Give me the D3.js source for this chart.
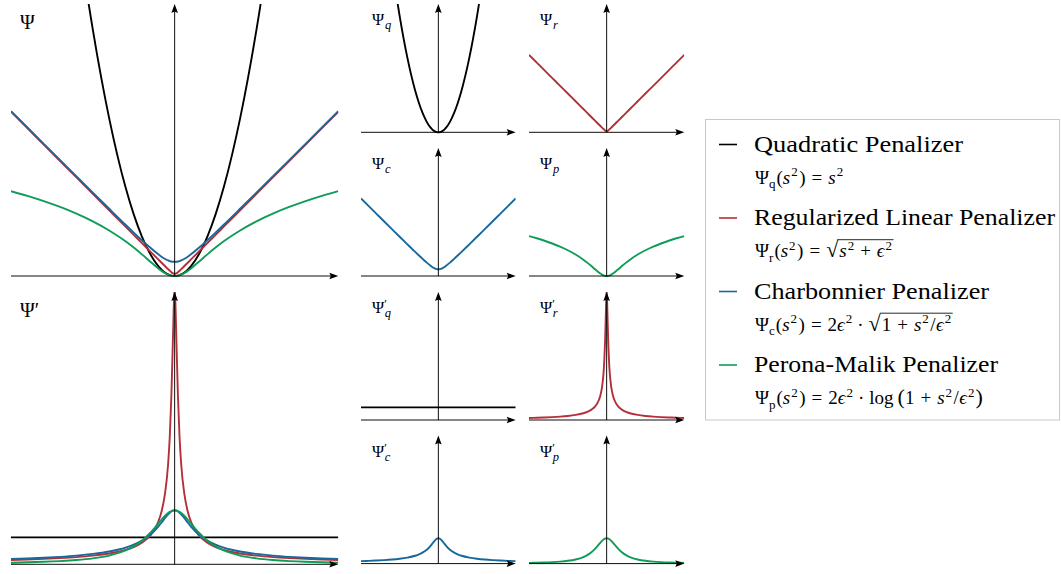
<!DOCTYPE html>
<html>
<head>
<meta charset="utf-8">
<script src="https://cdn.jsdelivr.net/npm/d3@7"></script>
<style>
  body { margin: 0; background: #fff; }
  svg { display: block; }
  svg text { font-family: "Liberation Serif", "DejaVu Serif", "Noto Serif", serif; fill: #000; }
</style>
</head>
<body>
<svg id="fig" width="1061" height="574"></svg>
<script>
// sample positions along s (same grid for every curve)
const sGrid = [-5,-4.5,-4,-3.5,-3,-2.5,-2,-1.5,-1.25,-1,-0.75,-0.5,-0.4,-0.3,-0.2,-0.15,-0.1,-0.05,0,
               0.05,0.1,0.15,0.2,0.3,0.4,0.5,0.75,1,1.25,1.5,2,2.5,3,3.5,4,4.5,5];

// penalizer values
const psiQ = [30,24.3,19.2,14.7,10.8,7.5,4.8,2.7,1.875,1.2,0.675,0.30,0.192,0.108,0.048,0.027,0.012,0.003,0,
              0.003,0.012,0.027,0.048,0.108,0.192,0.30,0.675,1.2,1.875,2.7,4.8,7.5,10.8,14.7,19.2,24.3,30];
const psiR = [5.0,4.5,4.0,3.5,3.0,2.501,2.001,1.501,1.251,1.002,0.752,0.504,0.404,0.306,0.209,0.162,0.117,0.078,0.06,
              0.078,0.117,0.162,0.209,0.306,0.404,0.504,0.752,1.002,1.251,1.501,2.001,2.501,3.0,3.5,4.0,4.5,5.0];
const psiC = [5.018,4.52,4.023,3.526,3.031,2.537,2.046,1.56,1.322,1.089,0.865,0.66,0.587,0.524,0.474,0.455,0.442,0.433,0.43,
              0.433,0.442,0.455,0.474,0.524,0.587,0.66,0.865,1.089,1.322,1.56,2.046,2.537,3.031,3.526,4.023,4.52,5.018];
const psiP = [2.583,2.44,2.281,2.102,1.899,1.664,1.387,1.056,0.865,0.659,0.442,0.231,0.156,0.092,0.042,0.024,0.011,0.003,0,
              0.003,0.011,0.024,0.042,0.092,0.156,0.231,0.442,0.659,0.865,1.056,1.387,1.664,1.899,2.102,2.281,2.44,2.583];

// derivatives
const dPsiQ = [1,1,1,1,1,1,1,1,1,1,1,1,1,1,1,1,1,1,1,1,1,1,1,1,1,1,1,1,1,1,1,1,1,1,1,1,1];
const dPsiR = [0.16,0.178,0.2,0.229,0.267,0.32,0.4,0.533,0.64,0.8,1.06,1.58,1.96,2.58,3.71,4.71,6.25,8.48,10.4,
               8.48,6.25,4.71,3.71,2.58,1.96,1.58,1.06,0.8,0.64,0.533,0.4,0.32,0.267,0.229,0.2,0.178,0.16];
const dPsiC = [0.195,0.216,0.243,0.277,0.322,0.385,0.476,0.62,0.73,0.88,1.09,1.4,1.55,1.71,1.85,1.91,1.96,1.99,2.0,
               1.99,1.96,1.91,1.85,1.71,1.55,1.4,1.09,0.88,0.73,0.62,0.476,0.385,0.322,0.277,0.243,0.216,0.195];
const dPsiP = [0.06,0.074,0.092,0.119,0.158,0.22,0.324,0.512,0.663,0.873,1.16,1.51,1.66,1.79,1.9,1.944,1.975,1.994,2.0,
               1.994,1.975,1.944,1.9,1.79,1.66,1.51,1.16,0.873,0.663,0.512,0.324,0.22,0.158,0.119,0.092,0.074,0.06];

const keys = ["q", "r", "c", "p"];
const legendTitles = ["Quadratic Penalizer", "Regularized Linear Penalizer", "Charbonnier Penalizer", "Perona-Malik Penalizer"];

const psiMax = 8.28, dPsiMax = 10.1;
const colors = {q: "#000000", r: "#b3303a", c: "#18689c", p: "#0e9c57"};
const psi = {q: psiQ, r: psiR, c: psiC, p: psiP};
const dPsi = {q: dPsiQ, r: dPsiR, c: dPsiC, p: dPsiP};

const svg = d3.select("#fig");
svg.append("rect").attr("width", 1061).attr("height", 574).attr("fill", "#fff");

const panels = [
    {x0: 11,  x1: 338.3, base: 276,   top: 4,     deriv: false, keys: keys, big: true},
    {x0: 11,  x1: 338.3, base: 564.3, top: 292,   deriv: true,  keys: keys, big: true},
    {x0: 361, x1: 515.7, base: 132.3, top: 4,     deriv: false, keys: ["q"]},
    {x0: 529, x1: 684.3, base: 132.3, top: 4,     deriv: false, keys: ["r"]},
    {x0: 361, x1: 515.7, base: 276,   top: 148,   deriv: false, keys: ["c"]},
    {x0: 529, x1: 684.3, base: 276,   top: 148,   deriv: false, keys: ["p"]},
    {x0: 361, x1: 515.7, base: 420,   top: 292,   deriv: true,  keys: ["q"]},
    {x0: 529, x1: 684.3, base: 420,   top: 292,   deriv: true,  keys: ["r"]},
    {x0: 361, x1: 515.7, base: 563.6, top: 435.5, deriv: true,  keys: ["c"]},
    {x0: 529, x1: 684.3, base: 563.6, top: 435.5, deriv: true,  keys: ["p"]}
];

function arrowRight(xt, yt) {
    return `M${xt},${yt} L${xt - 9},${yt - 3.3} L${xt - 7.5},${yt} L${xt - 9},${yt + 3.3} Z`;
}
function arrowUp(xt, yt) {
    return `M${xt},${yt} L${xt - 3.3},${yt + 9} L${xt},${yt + 7.5} L${xt + 3.3},${yt + 9} Z`;
}

panels.forEach((p, pi) => {
    let g = svg.append("g");
    let x = d3.scaleLinear().domain(d3.extent(sGrid)).range([p.x0, p.x1]);
    let y = d3.scaleLinear().domain([0, p.deriv ? dPsiMax : psiMax]).range([p.base, p.top]);

    let clipId = "clip" + pi;
    svg.append("clipPath").attr("id", clipId)
        .append("rect")
        .attr("x", p.x0).attr("y", p.top)
        .attr("width", p.x1 - p.x0).attr("height", p.base - p.top + 3);

    let line = d3.line()
        .x((d, i) => x(sGrid[i]))
        .y(d => y(d))
        .curve(d3.curveMonotoneX);

    g.append("g").attr("clip-path", `url(#${clipId})`)
        .selectAll("path")
        .data(p.keys)
        .join("path")
        .attr("d", k => line(p.deriv ? dPsi[k] : psi[k]))
        .attr("fill", "none")
        .attr("stroke", k => colors[k])
        .attr("stroke-width", 1.9);

    // axes with arrow heads
    let x0 = x(0);
    g.append("line").attr("x1", p.x0).attr("x2", p.x1 - 4).attr("y1", p.base).attr("y2", p.base)
        .attr("stroke", "#000").attr("stroke-width", 0.95);
    g.append("line").attr("x1", x0).attr("x2", x0).attr("y1", p.base).attr("y2", p.top + 4)
        .attr("stroke", "#000").attr("stroke-width", 0.95);
    g.append("path").attr("d", arrowRight(p.x1, p.base)).attr("fill", "#000");
    g.append("path").attr("d", arrowUp(x0, p.top)).attr("fill", "#000");

    // panel label
    if (p.big) {
        g.append("text").attr("x", 20).attr("y", p.base - 247)
            .attr("font-size", 20).text(p.deriv ? "Ψ′" : "Ψ");
    } else {
        let lx = p.x0 + 11, ly = p.base - 107;
        let t = g.append("text").attr("x", lx).attr("y", ly).attr("font-size", 16.5);
        t.append("tspan").text("Ψ");
        let w = t.node().getComputedTextLength();
        if (p.deriv) {
            t.append("tspan").attr("dy", -5).attr("font-size", 12).text("′");
            t.append("tspan").attr("x", lx + w + 0.5).attr("dy", 9)
                .attr("font-size", 12.5).attr("font-style", "italic").text(p.keys[0]);
        } else {
            t.append("tspan").attr("dx", 0.8).attr("dy", 4)
                .attr("font-size", 12.5).attr("font-style", "italic").text(p.keys[0]);
        }
    }
});

// legend
const lg = svg.append("g");
lg.append("rect").attr("x", 705.5).attr("y", 119.5).attr("width", 354).attr("height", 300.5)
    .attr("fill", "#fff").attr("stroke", "#c8c8c8").attr("stroke-width", 1);

const titleWidths = [209, 301, 235, 244];

// formula pieces: [text, kind, mark, extra gap before]
const lhs = sub => [["Ψ"], [sub, "sub"], ["(", null, null, 1], ["s", "i"], ["2", "sup", null, 1],
                    [")", null, null, 1.5], ["=", null, null, 6]];
const formulas = {
    q: [...lhs("q"), ["s", "i", null, 6], ["2", "sup", null, 1]],
    r: [...lhs("r"), ["√", "rad", null, 6], ["s", "i", null, 1], ["2", "sup", null, 1], ["+", null, null, 6],
        ["ϵ", "i", null, 6], ["2", "sup", "end", 1]],
    c: [...lhs("c"), ["2", null, null, 6], ["ϵ", "i"], ["2", "sup", null, 1], ["·", null, null, 5],
        ["√", "rad", null, 5], ["1", null, null, 1], ["+", null, null, 6], ["s", "i", null, 6], ["2", "sup", null, 1],
        ["/", null, null, 1.5], ["ϵ", "i", null, 0.5], ["2", "sup", "end", 1]],
    p: [...lhs("p"), ["2", null, null, 6], ["ϵ", "i"], ["2", "sup", null, 1], ["·", null, null, 5],
        ["log", null, null, 5], ["(", "big", null, 4], ["1"], ["+", null, null, 6], ["s", "i", null, 6],
        ["2", "sup", null, 1], ["/", null, null, 1.5], ["ϵ", "i", null, 0.5], ["2", "sup", null, 1], [")", "big", null, 1]]
};

function drawFormula(x, y, parts) {
    let t = lg.append("text").attr("x", x).attr("y", y).attr("font-size", 19);
    let shift = 0, endSpan = null, radSpan = null;
    parts.forEach(([txt, kind, mark, gap]) => {
        let off = kind === "sub" ? 4.5 : kind === "sup" ? -7.5 : 0;
        let sp = t.append("tspan").attr("dy", off - shift).text(txt);
        if (gap) sp.attr("dx", gap);
        shift = off;
        if (kind === "sub" || kind === "sup") sp.attr("font-size", 13);
        if (kind === "i") sp.attr("font-style", "italic");
        if (kind === "big") sp.attr("font-size", 22);
        if (kind === "rad") { sp.attr("font-size", 22); radSpan = sp.node(); }
        if (mark === "end") endSpan = sp.node();
    });
    if (radSpan && endSpan) {
        let xa = radSpan.getEndPositionOfChar(0).x - 0.8;
        let xb = endSpan.getEndPositionOfChar(endSpan.textContent.length - 1).x + 1.5;
        lg.append("line").attr("x1", xa).attr("x2", xb).attr("y1", y - 17.3).attr("y2", y - 17.3)
            .attr("stroke", "#000").attr("stroke-width", 0.85);
    }
}

keys.forEach((k, i) => {
    let cy = 144.5 + 73.5 * i;
    lg.append("line").attr("x1", 719).attr("x2", 737).attr("y1", cy).attr("y2", cy)
        .attr("stroke", colors[k]).attr("stroke-width", 1.6);
    lg.append("text").attr("x", 754).attr("y", cy + 7).attr("font-size", 23.5)
        .attr("textLength", titleWidths[i]).attr("lengthAdjust", "spacingAndGlyphs")
        .text(legendTitles[i]);
    drawFormula(755, cy + 39, formulas[k]);
});
</script>
</body>
</html>
